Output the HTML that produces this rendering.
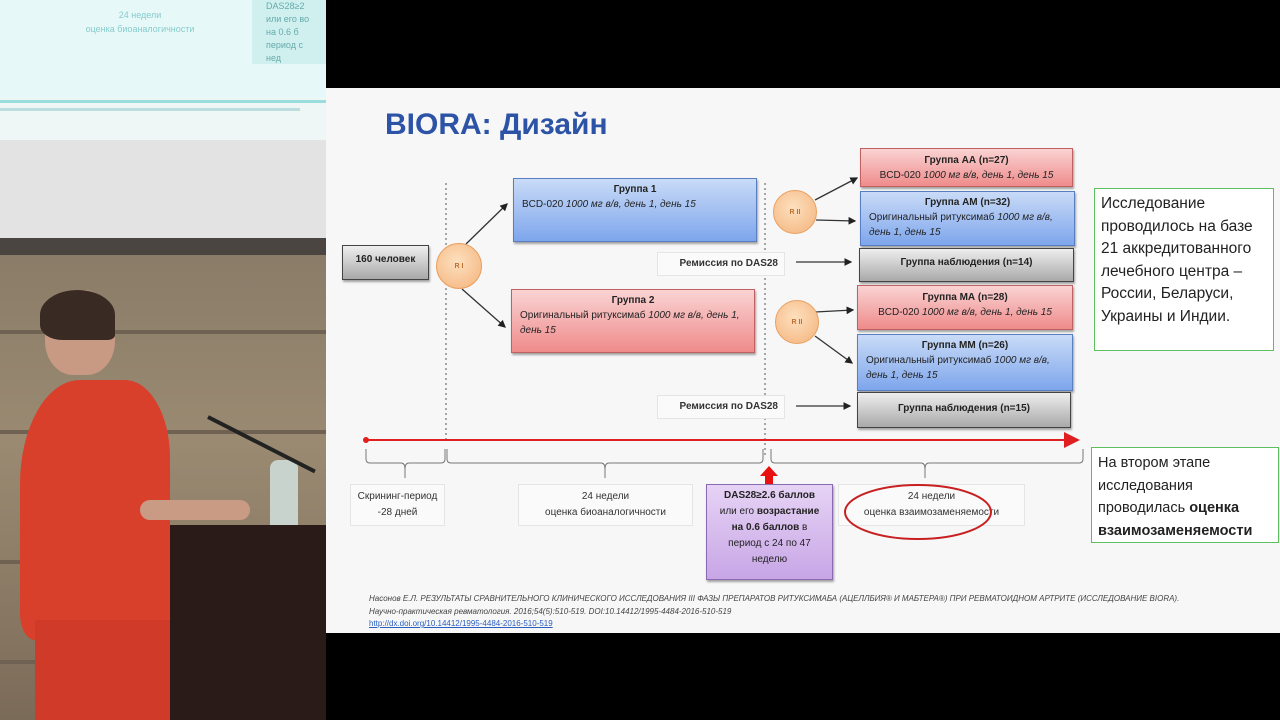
<!DOCTYPE html>
<html><head><meta charset="utf-8">
<style>
*{margin:0;padding:0;box-sizing:border-box}
body{width:1280px;height:720px;background:#000;position:relative;overflow:hidden;font-family:"Liberation Sans","DejaVu Sans",sans-serif}
.a{position:absolute}
.slide{left:326px;top:88px;width:954px;height:545px;background:#f7f7f8}
.bx{position:absolute;border:1px solid #777;font-size:10px;color:#222;text-align:center;line-height:15px;padding-top:3px;box-shadow:1px 2px 2px rgba(0,0,0,.35)}
.bl{background:linear-gradient(#c9dbf7,#7ea6ec);border-color:#5a7fc0}
.rd{background:linear-gradient(#fad3d3,#ef8b8b);border-color:#c06060}
.gr{background:linear-gradient(#eeeeee,#a9a9a9);border-color:#444}
.bx b{display:block}
.bx .t{text-align:left;padding:0 8px}
i{font-style:italic}
.circ{position:absolute;border-radius:50%;background:radial-gradient(circle at 45% 40%,#fde0bf,#f4b27a);border:1px solid #e9a060;font-size:7px;color:#c07030;text-align:center;font-weight:bold}
.lb{position:absolute;background:#fafafa;border:1px solid #e5e5e5;font-size:10px;color:#333;text-align:center;line-height:16px}
.gbox{position:absolute;border:1.5px solid #5fbf5f;background:#fff;font-size:15.5px;color:#222;line-height:22.5px;padding:4px 6px}
</style></head><body>
<!-- left photo area -->
<div class="a" style="left:0;top:0;width:326px;height:118px;background:#e6f8f8"></div>
<div class="a" style="left:60px;top:8px;width:160px;font-size:9px;color:#8cc;text-align:center;line-height:14px">24 недели<br>оценка биоаналогичности</div>
<div class="a" style="left:252px;top:0;width:74px;height:64px;background:#d0f0f0;font-size:9px;color:#6aa;line-height:13px;padding-left:14px">DAS28≥2<br>или его во<br>на 0.6 б<br>период с<br>нед</div>
<div class="a" style="left:0;top:98px;width:326px;height:42px;background:#eef6f6"></div>
<div class="a" style="left:0;top:100px;width:326px;height:3px;background:#9dd"></div>
<div class="a" style="left:0;top:108px;width:300px;height:3px;background:#bdd"></div>
<div class="a" style="left:0;top:140px;width:326px;height:100px;background:#e3e3e3"></div>
<div class="a" style="left:0;top:238px;width:326px;height:20px;background:#4a4540"></div>
<div class="a" style="left:0;top:255px;width:326px;height:465px;background:linear-gradient(#8a7c68,#9a8a72 40%,#8c7c66 70%,#7a6a58)"></div>
<div class="a" style="left:0;top:330px;width:326px;height:4px;background:#6f6252"></div>
<div class="a" style="left:0;top:430px;width:326px;height:4px;background:#6f6252"></div>
<div class="a" style="left:0;top:560px;width:326px;height:4px;background:#6f6252"></div>
<div class="a" style="left:0;top:660px;width:326px;height:4px;background:#6f6252"></div>
<!-- person -->
<div class="a" style="left:45px;top:290px;width:70px;height:85px;border-radius:45% 45% 40% 40%;background:#c89a84"></div>
<div class="a" style="left:40px;top:290px;width:75px;height:50px;border-radius:50% 50% 10% 30%;background:#3a2a24"></div>
<div class="a" style="left:20px;top:380px;width:150px;height:260px;border-radius:40% 30% 10% 10%;background:#d8402c"></div>
<div class="a" style="left:35px;top:620px;width:140px;height:100px;background:#d03a28"></div>
<div class="a" style="left:140px;top:500px;width:110px;height:20px;border-radius:10px;background:#c99a84"></div>
<div class="a" style="left:270px;top:460px;width:28px;height:70px;background:#c7d3cc;border-radius:8px 8px 2px 2px"></div>
<div class="a" style="left:208px;top:415px;width:120px;height:4px;background:#222;transform:rotate(27deg);transform-origin:left"></div>
<div class="a" style="left:170px;top:525px;width:156px;height:195px;background:#2a1a18"></div>

<div class="a slide"></div>
<div class="a" style="left:385px;top:108px;font-size:30px;font-weight:bold;color:#2d53a6">BIORA: Дизайн</div>

<svg class="a" style="left:0;top:0" width="1280" height="720">
<defs><marker id="ar" markerWidth="6" markerHeight="6" refX="5" refY="3" orient="auto"><path d="M0,0L6,3L0,6z" fill="#222"/></marker>
<marker id="rar" markerWidth="8" markerHeight="8" refX="7" refY="4" orient="auto"><path d="M0,0L8,4L0,8z" fill="#e02020"/></marker></defs>
<g stroke="#555" stroke-dasharray="2,3" stroke-width="1"><line x1="446" y1="183" x2="446" y2="440"/><line x1="765" y1="183" x2="765" y2="458"/></g>
<g stroke="#333" stroke-width="1.3" marker-end="url(#ar)">
<line x1="466" y1="244" x2="507" y2="204"/><line x1="462" y1="289" x2="505" y2="327"/>
<line x1="815" y1="200" x2="857" y2="178"/><line x1="816" y1="220" x2="855" y2="221"/>
<line x1="815" y1="312" x2="853" y2="310"/><line x1="815" y1="336" x2="852" y2="363"/>
<line x1="796" y1="262" x2="851" y2="262"/><line x1="796" y1="406" x2="850" y2="406"/></g>
<line x1="366" y1="440" x2="1078" y2="440" stroke="#e02020" stroke-width="2" marker-end="url(#rar)"/>
<circle cx="366" cy="440" r="3" fill="#e02020"/>
<g stroke="#777" fill="none" stroke-width="1">
<path d="M366,449 v10 q0,4 4,4 h31 q4,0 4,6 q0,-6 4,-6 h32 q4,0 4,-4 v-10"/>
<path d="M447,449 v10 q0,4 4,4 h150 q4,0 4,6 q0,-6 4,-6 h150 q4,0 4,-4 v-10"/>
<path d="M771,449 v10 q0,4 4,4 h146 q4,0 4,6 q0,-6 4,-6 h150 q4,0 4,-4 v-10"/>
<line x1="405" y1="469" x2="405" y2="478"/><line x1="605" y1="469" x2="605" y2="478"/><line x1="925" y1="469" x2="925" y2="478"/></g>
<path d="M769,466 l-9,10 h5 v8 h8 v-8 h5z" fill="#e81010"/>
</svg>

<div class="bx gr" style="left:342px;top:245px;width:87px;height:35px;font-weight:bold;line-height:22px">160 человек</div>
<div class="circ" style="left:436px;top:243px;width:46px;height:46px;line-height:46px">R I</div>
<div class="circ" style="left:773px;top:190px;width:44px;height:44px;line-height:44px">R II</div>
<div class="circ" style="left:775px;top:300px;width:44px;height:44px;line-height:44px">R II</div>

<div class="bx bl" style="left:513px;top:178px;width:244px;height:64px"><b>Группа 1</b><div class="t">BCD-020 <i>1000 мг в/в, день 1, день 15</i></div></div>
<div class="bx rd" style="left:511px;top:289px;width:244px;height:64px"><b>Группа 2</b><div class="t">Оригинальный ритуксимаб <i>1000 мг в/в, день 1, день 15</i></div></div>

<div class="lb" style="left:657px;top:252px;width:128px;height:24px;line-height:22px;font-weight:bold;text-align:right;padding-right:6px">Ремиссия по DAS28</div>
<div class="lb" style="left:657px;top:395px;width:128px;height:24px;line-height:22px;font-weight:bold;text-align:right;padding-right:6px">Ремиссия по DAS28</div>

<div class="bx rd" style="left:860px;top:148px;width:213px;height:39px;line-height:15px;padding-top:4px"><b>Группа АА (n=27)</b>BCD-020 <i>1000 мг в/в, день 1, день 15</i></div>
<div class="bx bl" style="left:860px;top:191px;width:215px;height:55px"><b>Группа АМ (n=32)</b><div class="t">Оригинальный ритуксимаб <i>1000 мг в/в, день 1, день 15</i></div></div>
<div class="bx gr" style="left:859px;top:248px;width:215px;height:34px;font-weight:bold;line-height:22px">Группа наблюдения (n=14)</div>
<div class="bx rd" style="left:857px;top:285px;width:216px;height:45px;padding-top:4px"><b>Группа МА (n=28)</b>BCD-020 <i>1000 мг в/в, день 1, день 15</i></div>
<div class="bx bl" style="left:857px;top:334px;width:216px;height:57px"><b>Группа ММ (n=26)</b><div class="t">Оригинальный ритуксимаб <i>1000 мг в/в, день 1, день 15</i></div></div>
<div class="bx gr" style="left:857px;top:392px;width:214px;height:36px;font-weight:bold;line-height:26px">Группа наблюдения (n=15)</div>

<div class="gbox" style="left:1094px;top:188px;width:180px;height:163px">Исследование проводилось на базе 21 аккредитованного лечебного центра – России, Беларуси, Украины и Индии.</div>
<div class="gbox" style="left:1091px;top:447px;width:188px;height:96px;font-size:14.5px">На втором этапе<br>исследования<br>проводилась <b>оценка<br>взаимозаменяемости</b></div>

<div class="lb" style="left:350px;top:484px;width:95px;height:42px;padding-top:4px">Скрининг-период<br>-28 дней</div>
<div class="lb" style="left:518px;top:484px;width:175px;height:42px;padding-top:4px">24 недели<br>оценка биоаналогичности</div>
<div class="lb" style="left:838px;top:484px;width:187px;height:42px;padding-top:4px">24 недели<br>оценка взаимозаменяемости</div>
<div class="bx" style="left:706px;top:484px;width:127px;height:96px;background:linear-gradient(#e6d3f5,#c8a6e6);border-color:#8a6ab0;font-size:10px;line-height:16px;padding-top:3px"><b style="display:inline">DAS28≥2.6 баллов</b><br>или его <b style="display:inline">возрастание</b><br><b style="display:inline">на 0.6 баллов</b> в<br>период с 24 по 47<br>неделю</div>

<svg class="a" style="left:0;top:0" width="1280" height="720">
<ellipse cx="918" cy="512" rx="73" ry="27" fill="none" stroke="#c82020" stroke-width="2"/>
</svg>

<div class="a" style="left:369px;top:593px;font-size:8px;color:#444;font-style:italic;line-height:12.5px;width:900px">Насонов Е.Л. РЕЗУЛЬТАТЫ СРАВНИТЕЛЬНОГО КЛИНИЧЕСКОГО ИССЛЕДОВАНИЯ III ФАЗЫ ПРЕПАРАТОВ РИТУКСИМАБА (АЦЕЛЛБИЯ® И МАБТЕРА®) ПРИ РЕВМАТОИДНОМ АРТРИТЕ (ИССЛЕДОВАНИЕ BIORA).<br>Научно-практическая ревматология. 2016;54(5):510-519. DOI:10.14412/1995-4484-2016-510-519<br><span style="color:#2a5fc0;text-decoration:underline;font-style:normal">http://dx.doi.org/10.14412/1995-4484-2016-510-519</span></div>
</body></html>
